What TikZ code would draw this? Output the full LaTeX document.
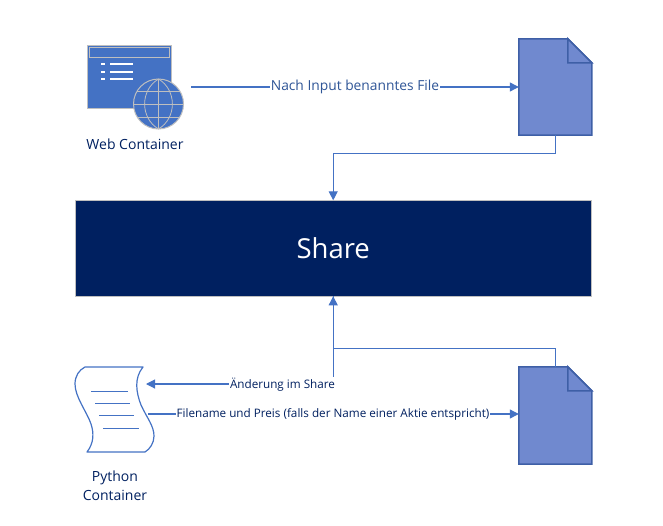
\documentclass[tikz,border=0pt]{standalone}
\usepackage{fontspec}
\setmainfont{Open Sans}
\usetikzlibrary{arrows.meta}
\definecolor{linecol}{HTML}{4472C4}
\definecolor{navy}{HTML}{002060}
\definecolor{labblue}{HTML}{2F5597}
\definecolor{docfill}{HTML}{7089CF}
\definecolor{docline}{HTML}{3E5FA6}
\definecolor{iconline}{HTML}{BFBFBF}
\tikzset{
  conn/.style={draw=linecol,line width=1.1pt},
  arr/.style={conn,-{Triangle[length=9pt,width=9pt]}},
  label/.style={text=navy,inner sep=1pt,fill=white,font=\fontsize{11.7}{14}\selectfont},
  lab/.style={text=navy,align=center,inner sep=0pt,font=\fontsize{14}{19}\selectfont},
  doc/.style={draw=docline,fill=docfill,line width=1.5pt,line join=miter},
  sheet/.style={draw=linecol,line width=1.2pt,line join=round}
}
\newcommand{\docicon}[1]{%
  \path[doc] (#1.north west) -- ++(49,0) -- ++(24,24) |- (#1.south west) -- cycle;
  \path[doc] (#1.north west) ++(49,0) -- ++(24,24) -- ++(-24,0) -- cycle;
}
\begin{document}
\begin{tikzpicture}[x=1pt,y=-1pt]
\useasboundingbox (0,0) rectangle (663,525);
% Share
\node[fill=navy,draw=iconline,line width=0.5pt,text=white,minimum width=515.5pt,minimum height=95.5pt,inner sep=0pt,font=\fontsize{27.5}{32}\selectfont] (share) at (333.2,248.3) {Share};
% File nodes
\node[inner sep=0pt,minimum width=73pt,minimum height=96pt] (fileA) at (555.5,87) {};
\node[inner sep=0pt,minimum width=73pt,minimum height=97pt] (fileB) at (555.5,415.5) {};
\docicon{fileA}
\docicon{fileB}
% Web icon
\node[fill=linecol,draw=iconline,line width=1pt,inner sep=0pt,minimum width=84pt,minimum height=63pt] (web) at (129,76.5) {};
\draw[iconline,line width=0.8pt] (89,47.5) rectangle (169,57);
\foreach \y in {64,72,79}{
  \fill[white] (100.5,\y-1.2) rectangle (105,\y+1.2);
  \fill[white] (109.5,\y-1.2) rectangle (132.5,\y+1.2);
}
\node[circle,fill=linecol,draw=iconline,line width=1pt,minimum size=50pt,inner sep=0pt] (globe) at (158.5,104) {};
\begin{scope}[draw=iconline,line width=0.8pt]
\draw (133.5,104) -- (183.5,104);
\draw (158.5,79) -- (158.5,129);
\draw (158.5,79) .. controls (140,90) and (140,118) .. (158.5,129);
\draw (158.5,79) .. controls (177,90) and (177,118) .. (158.5,129);
\draw (137,91) -- (180,91);
\draw (137,117) -- (180,117);
\end{scope}
\node[lab] (webl) at (135,144) {Web Container};
% Python scroll
\node[inner sep=0pt,minimum width=79pt,minimum height=85pt] (py) at (114.5,409.5) {};
\path[sheet,fill=white] (85,367) -- (143,367)
  .. controls (134,378) and (136,392) .. (141,405)
  .. controls (147,418) and (154,426) .. (154,436)
  .. controls (154,443) and (150,449) .. (145,452)
  -- (87,452)
  .. controls (94,443) and (94,433) .. (91,424)
  .. controls (87,412) and (75,397) .. (75,384)
  .. controls (75,376) and (79,370) .. (85,367) -- cycle;
\foreach \xa/\xb/\y in {91/128/391,95/130/403,99/134/415,103/139/428}{
  \draw[linecol,line width=1pt] (\xa,\y) -- (\xb,\y);
}
\node[lab] (pyl) at (115,486) {Python\\Container};
% Connectors
\coordinate (webout) at (191,87);
\draw[arr] (webout) -- (fileA.west);
\node[label,text=labblue,font=\fontsize{13.8}{16}\selectfont] (l1) at (355,87) {Nach Input benanntes File};
\draw[arr] (fileA.south) -- ++(0,18) -| (share.north);
\draw[arr] (fileB.north) -- ++(0,-18) -| (share.south);
\coordinate (pyin) at (146,384);
\coordinate (corner) at (share.south |- pyin);
\draw[arr] (share.south) -- (corner) -- (pyin);
\node[label] (l2) at (282.5,384.5) {Änderung im Share};
\coordinate (pyout) at (148,414);
\coordinate (fileBin) at (fileB.west |- pyout);
\draw[arr] (pyout) -- (fileBin);
\node[label] (l3) at (333,414.5) {Filename und Preis (falls der Name einer Aktie entspricht)};
\end{tikzpicture}
\end{document}
